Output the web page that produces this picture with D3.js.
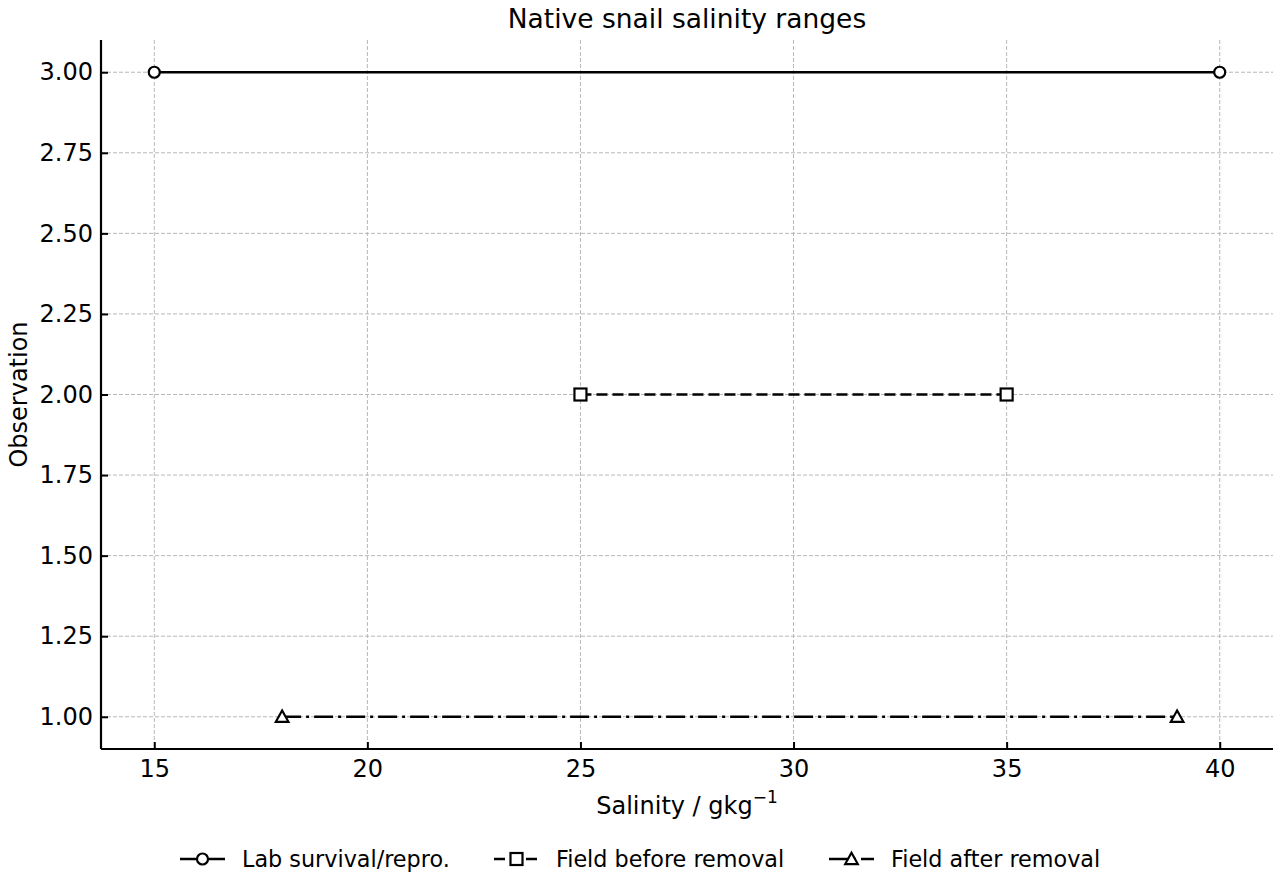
<!DOCTYPE html>
<html>
<head>
<meta charset="utf-8">
<script src="https://cdn.jsdelivr.net/npm/d3@7"></script>
<style>
  body { margin: 0; background: #fff; }
  text { font-family: "DejaVu Sans", sans-serif; fill: #000; }
</style>
</head>
<body>
<div id="chart"></div>
<script>
// Data
const seriesNames = ["Lab survival/repro.", "Field before removal", "Field after removal"];
const lowValues = [15, 25, 18];
const highValues = [40, 35, 39];
const observations = [3, 2, 1];
const markers = ["circle", "square", "triangle"];
const dashes = [null, "11,5", "19,5,3,5"];
const xTicks = [15, 20, 25, 30, 35, 40];
const yTicks = [1.0, 1.25, 1.5, 1.75, 2.0, 2.25, 2.5, 2.75, 3.0];

const W = 1280, H = 880;
const margin = { top: 40, right: 7, bottom: 131, left: 101 };
const width = W - margin.left - margin.right;
const height = H - margin.top - margin.bottom;

const x = d3.scaleLinear().domain([13.75, 41.25]).range([0, width]);
const y = d3.scaleLinear().domain([0.9, 3.1]).range([height, 0]);

const svg = d3.select("#chart").append("svg")
  .attr("width", W).attr("height", H);

const g = svg.append("g")
  .attr("transform", `translate(${margin.left},${margin.top})`);

// Grid
g.append("g").selectAll("line").data(xTicks).join("line")
  .attr("x1", d => x(d)).attr("x2", d => x(d))
  .attr("y1", 0).attr("y2", height)
  .attr("stroke", "#b8b8b8").attr("stroke-width", 1)
  .attr("stroke-dasharray", "4,2");
g.append("g").selectAll("line").data(yTicks).join("line")
  .attr("x1", 0).attr("x2", width)
  .attr("y1", d => y(d)).attr("y2", d => y(d))
  .attr("stroke", "#b8b8b8").attr("stroke-width", 1)
  .attr("stroke-dasharray", "4,2");

// Axes (inward ticks)
const xAxis = g.append("g")
  .attr("transform", `translate(0,${height})`)
  .call(d3.axisBottom(x).tickValues(xTicks).tickSize(-7).tickPadding(11).tickFormat(d3.format("d")));
const yAxis = g.append("g")
  .call(d3.axisLeft(y).tickValues(yTicks).tickSize(-7).tickPadding(8).tickFormat(d3.format(".2f")));
[xAxis, yAxis].forEach(a => {
  a.select(".domain").attr("stroke", "#000").attr("stroke-width", 2.2);
  a.selectAll(".tick line").attr("stroke", "#000").attr("stroke-width", 2);
  a.selectAll(".tick text").style("font-family", "DejaVu Sans").style("font-size", "24px");
});
xAxis.select(".domain").attr("d", `M0,0H${width}`);
yAxis.select(".domain").attr("d", `M0,${height}V0`);

// Marker drawing
function drawMarker(sel, type, cx, cy) {
  if (type === "circle") {
    sel.append("circle").attr("cx", cx).attr("cy", cy).attr("r", 5.5)
      .attr("fill", "#fff").attr("stroke", "#000").attr("stroke-width", 2.2);
  } else if (type === "square") {
    sel.append("rect").attr("x", cx - 6).attr("y", cy - 6).attr("width", 12).attr("height", 12)
      .attr("fill", "#fff").attr("stroke", "#000").attr("stroke-width", 2.2);
  } else {
    const s = 6.3;
    sel.append("path")
      .attr("d", `M${cx},${cy - s}L${cx + s},${cy + s * 0.8}L${cx - s},${cy + s * 0.8}Z`)
      .attr("fill", "#fff").attr("stroke", "#000").attr("stroke-width", 2.2)
      .attr("stroke-linejoin", "miter");
  }
}

// Series
seriesNames.forEach((name, i) => {
  const pts = [[lowValues[i], observations[i]], [highValues[i], observations[i]]];
  const line = d3.line().x(d => x(d[0])).y(d => y(d[1]));
  g.append("path").datum(pts)
    .attr("d", line)
    .attr("fill", "none").attr("stroke", "#000").attr("stroke-width", 2.6)
    .attr("stroke-dasharray", dashes[i]);
  pts.forEach(p => drawMarker(g, markers[i], x(p[0]), y(p[1])));
});

// Labels
svg.append("text")
  .attr("x", margin.left + width / 2).attr("y", 28)
  .attr("text-anchor", "middle").style("font-size", "26.5px")
  .text("Native snail salinity ranges");

const xl = svg.append("text")
  .attr("x", margin.left + width / 2).attr("y", 814)
  .attr("text-anchor", "middle").style("font-size", "24px");
xl.append("tspan").text("Salinity / gkg");
xl.append("tspan").attr("dy", -11).style("font-size", "17px").text("−1");

svg.append("text")
  .attr("transform", `translate(27,${margin.top + height / 2}) rotate(-90)`)
  .attr("text-anchor", "middle").style("font-size", "24px")
  .text("Observation");

// Legend
const legendX = [180, 494, 829];
const legend = svg.append("g");
seriesNames.forEach((name, i) => {
  const lg = legend.append("g").attr("transform", `translate(${legendX[i]},859)`);
  lg.append("line").attr("x1", 0).attr("x2", 45).attr("y1", 0).attr("y2", 0)
    .attr("stroke", "#000").attr("stroke-width", 2.6)
    .attr("stroke-dasharray", dashes[i]);
  drawMarker(lg, markers[i], 22.5, 0);
  lg.append("text").attr("x", 62).attr("y", 8)
    .style("font-size", "22.3px").text(name);
});
</script>
</body>
</html>
